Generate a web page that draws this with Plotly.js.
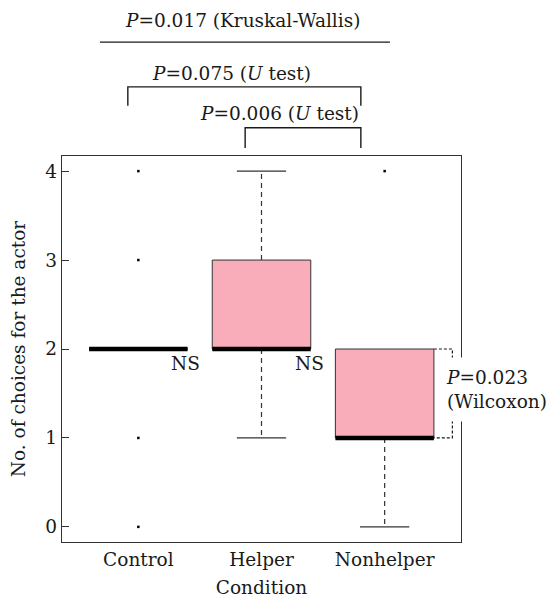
<!DOCTYPE html>
<html>
<head>
<meta charset="utf-8">
<script src="https://cdn.plot.ly/plotly-3.0.1.min.js"></script>
<style>html,body{margin:0;padding:0;background:#fff;}#chart{width:560px;height:601px;}</style>
</head>
<body>
<div id="chart"></div>
<script>
// ---- data ----
var categories = ['Control', 'Helper', 'Nonhelper'];
var q1 = [2, 2, 1];
var medians = [2, 2, 1];
var q3 = [2, 3, 2];
var lowerWhisker = [2, 1, 0];
var upperWhisker = [2, 4, 2];
var outliers = [[0, 1, 3, 4], [], [4]];
var yTicks = [0, 1, 2, 3, 4];
var pairLabels = ['<i>P</i>=0.017 (Kruskal-Wallis)', '<i>P</i>=0.075 (<i>U</i> test)', '<i>P</i>=0.006 (<i>U</i> test)'];
var nsLabel = 'NS';
var wilcoxonLabel = '<i>P</i>=0.023<br>(Wilcoxon)';

// ---- build traces ----
var FONT = 'DejaVu Serif, serif';
var half = 0.4, capHalf = 0.2;
var traces = [];
var ink = '#333333';

categories.forEach(function (c, i) {
  traces.push({
    type: 'scatter', mode: 'lines', hoverinfo: 'skip', showlegend: false,
    x: [i - half, i + half, i + half, i - half, i - half],
    y: [q1[i], q1[i], q3[i], q3[i], q1[i]],
    fill: 'toself', fillcolor: '#f9acb9',
    line: {color: ink, width: 1}
  });
});

var wx = [], wy = [];
categories.forEach(function (c, i) {
  wx.push(i, i, null, i, i, null);
  wy.push(q3[i], upperWhisker[i], null, q1[i], lowerWhisker[i], null);
});
traces.push({type: 'scatter', mode: 'lines', hoverinfo: 'skip', showlegend: false,
  x: wx, y: wy, line: {color: ink, width: 1.2, dash: '5px,4px'}});

var cx = [], cy = [];
categories.forEach(function (c, i) {
  if (upperWhisker[i] > q3[i]) { cx.push(i - capHalf, i + capHalf, null); cy.push(upperWhisker[i], upperWhisker[i], null); }
  if (lowerWhisker[i] < q1[i]) { cx.push(i - capHalf, i + capHalf, null); cy.push(lowerWhisker[i], lowerWhisker[i], null); }
});
traces.push({type: 'scatter', mode: 'lines', hoverinfo: 'skip', showlegend: false,
  x: cx, y: cy, line: {color: ink, width: 1.2}});

var mx = [], my = [];
categories.forEach(function (c, i) {
  mx.push(i - half, i + half, null); my.push(medians[i], medians[i], null);
});
traces.push({type: 'scatter', mode: 'lines', hoverinfo: 'skip', showlegend: false,
  x: mx, y: my, line: {color: '#000', width: 4.5}});

var ox = [], oy = [];
outliers.forEach(function (arr, i) { arr.forEach(function (v) { ox.push(i); oy.push(v); }); });
traces.push({type: 'scatter', mode: 'markers', hoverinfo: 'skip', showlegend: false,
  x: ox, y: oy, marker: {symbol: 'square', size: 2.5, color: '#000'}, cliponaxis: false});

// ---- layout ----
var txt = {family: FONT, size: 18.5, color: '#1a1a1a'};
var black = {color: '#1a1a1a', width: 1.4};
var shapes = [
  {type: 'line', xref: 'paper', yref: 'paper', x0: 0.095, x1: 0.822, y0: 1.295, y1: 1.295, line: black},
  {type: 'path', xref: 'paper', yref: 'paper', path: 'M0.165,1.130 L0.165,1.179 L0.749,1.179 L0.749,1.130', line: black},
  {type: 'path', xref: 'paper', yref: 'paper', path: 'M0.459,1.021 L0.459,1.073 L0.749,1.073 L0.749,1.021', line: black},
  {type: 'path', xref: 'x', yref: 'y', path: 'M2.4,2 L2.55,2 L2.55,1 L2.4,1',
    line: {color: '#1a1a1a', width: 1.2, dash: '3px,2px'}}
];
function ann(o) { o.showarrow = false; o.font = txt; o.yanchor = 'middle'; return o; }
var annotations = [
  ann({xref: 'paper', yref: 'paper', x: 0.452, y: 1.352, text: pairLabels[0]}),
  ann({xref: 'paper', yref: 'paper', x: 0.426, y: 1.215, text: pairLabels[1]}),
  ann({xref: 'paper', yref: 'paper', x: 0.544, y: 1.109, text: pairLabels[2]}),
  ann({xref: 'x', yref: 'y', x: 0.38, y: 1.84, text: nsLabel}),
  ann({xref: 'x', yref: 'y', x: 1.393, y: 1.84, text: nsLabel}),
  ann({xref: 'x', yref: 'y', x: 2.415, y: 1.54, xanchor: 'left', align: 'left', text: wilcoxonLabel,
    bgcolor: '#ffffff', borderpad: 9})
];

var layout = {
  width: 560, height: 601,
  margin: {l: 62, r: 99, t: 156, b: 59},
  paper_bgcolor: '#fff', plot_bgcolor: '#fff',
  showlegend: false,
  font: txt,
  xaxis: {
    range: [-0.62, 2.62], tickvals: [0, 1, 2], ticktext: categories,
    ticks: '', showgrid: false, zeroline: false,
    showline: true, mirror: true, linecolor: ink, linewidth: 1.3,
    tickfont: txt, title: {text: 'Condition', font: txt, standoff: 12}
  },
  yaxis: {
    range: [-0.17, 4.17], tickvals: yTicks, ticktext: yTicks.map(String),
    ticks: 'inside', ticklen: 7, tickcolor: ink, tickwidth: 1,
    showgrid: false, zeroline: false,
    showline: true, mirror: true, linecolor: ink, linewidth: 1.3,
    tickfont: txt, title: {text: 'No. of choices for the actor', font: txt, standoff: 14}
  },
  shapes: shapes,
  annotations: annotations
};

Plotly.newPlot('chart', traces, layout, {displayModeBar: false, staticPlot: true});
</script>
</body>
</html>
